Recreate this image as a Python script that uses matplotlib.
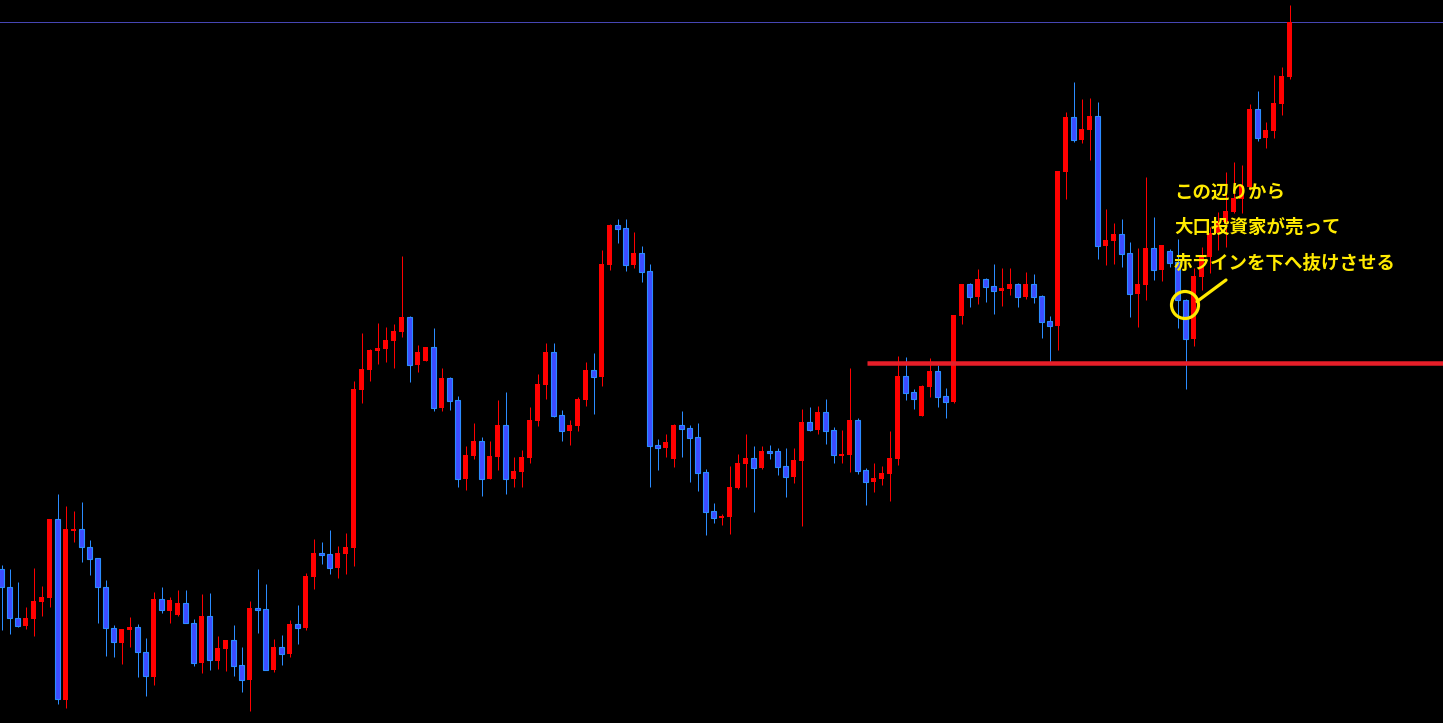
import numpy as np
import matplotlib
matplotlib.use("Agg")
import matplotlib.pyplot as plt
from matplotlib.patches import Circle

plt.rcParams["font.family"] = ["Noto Sans CJK JP", "DejaVu Sans"]

# OHLC, in screen levels (axis is inverted: smaller = higher price)
OPEN = [569, 587, 618, 626, 619, 602, 598, 519, 700, 530,
        529, 547, 558, 587, 628, 643, 630, 627, 652, 677,
        599, 611, 615, 603, 623, 663, 616, 661, 649, 640,
        665, 680, 608, 609, 670, 647, 654, 624, 628, 577,
        553, 554, 568, 554, 548, 390, 370, 351, 349, 341,
        332, 317, 365, 361, 347, 408, 378, 400, 479, 456,
        441, 479, 457, 425, 479, 472, 458, 421, 385, 352,
        415, 431, 426, 400, 370, 377, 265, 225, 228, 265,
        253, 271, 445, 448, 459, 425, 428, 437, 472, 511,
        518, 517, 488, 464, 458, 468, 451, 451, 466, 477,
        461, 422, 430, 412, 430, 455, 455, 420, 470, 482,
        479, 474, 459, 376, 392, 416, 387, 371, 396, 402,
        316, 284, 297, 279, 286, 291, 289, 284, 297, 284,
        296, 321, 326, 172, 117, 140, 130, 116, 246, 241,
        234, 253, 294, 285, 248, 270, 251, 262, 300, 339,
        277, 257, 233, 222, 212, 199, 187, 109, 138, 131,
        104, 77]
HIGH = [565, 569, 582, 607, 568, 586, 519, 494, 506, 511,
        502, 540, 558, 580, 625, 629, 617, 624, 638, 592,
        587, 597, 590, 590, 619, 594, 593, 636, 640, 625,
        647, 601, 569, 584, 639, 635, 620, 605, 573, 539,
        542, 530, 546, 533, 381, 333, 349, 323, 327, 324,
        256, 316, 345, 347, 328, 368, 377, 396, 446, 423,
        437, 441, 400, 392, 457, 450, 407, 374, 343, 343,
        410, 420, 397, 362, 353, 250, 224, 219, 219, 232,
        246, 264, 439, 434, 424, 411, 425, 423, 469, 503,
        514, 466, 454, 434, 446, 446, 445, 448, 448, 448,
        409, 407, 406, 399, 427, 430, 368, 418, 468, 463,
        466, 431, 356, 357, 389, 385, 358, 365, 388, 315,
        284, 283, 269, 278, 264, 268, 268, 283, 272, 274,
        295, 316, 171, 112, 82, 99, 98, 102, 209, 223,
        219, 242, 248, 177, 217, 245, 249, 239, 299, 268,
        247, 227, 212, 172, 162, 165, 104, 91, 122, 75,
        67, 5]
LOW = [630, 634, 627, 629, 636, 616, 607, 704, 708, 542,
       562, 575, 623, 656, 657, 664, 647, 677, 696, 685,
       613, 623, 616, 623, 666, 673, 670, 669, 671, 676,
       692, 711, 633, 670, 672, 665, 657, 644, 630, 589,
       564, 574, 578, 574, 566, 403, 381, 364, 362, 368,
       337, 382, 372, 361, 411, 411, 410, 487, 490, 459,
       496, 479, 470, 494, 487, 487, 463, 426, 399, 417,
       441, 445, 431, 406, 414, 386, 270, 243, 271, 268,
       282, 487, 470, 457, 467, 457, 482, 491, 535, 523,
       525, 534, 489, 487, 512, 469, 459, 475, 497, 483,
       526, 431, 434, 444, 463, 463, 472, 474, 505, 492,
       485, 501, 465, 400, 409, 416, 397, 407, 418, 403,
       324, 307, 304, 302, 314, 306, 295, 307, 299, 303,
       338, 362, 350, 199, 142, 143, 160, 259, 265, 264,
       267, 317, 327, 300, 280, 281, 267, 328, 389, 346,
       290, 273, 250, 247, 213, 213, 190, 141, 148, 138,
       115, 79]
CLOSE = [587, 618, 626, 618, 601, 597, 519, 699, 529, 529,
         547, 559, 587, 628, 642, 629, 627, 652, 676, 599,
         610, 600, 603, 623, 663, 616, 660, 648, 640, 666,
         680, 608, 610, 670, 647, 654, 624, 628, 576, 553,
         555, 568, 553, 547, 389, 369, 350, 348, 340, 331,
         317, 365, 352, 347, 408, 378, 401, 479, 455, 441,
         479, 456, 425, 479, 471, 457, 420, 384, 352, 416,
         431, 425, 399, 370, 377, 264, 225, 229, 265, 253,
         272, 446, 448, 442, 425, 429, 438, 473, 512, 518,
         516, 487, 463, 458, 468, 451, 452, 467, 477, 460,
         422, 430, 412, 431, 455, 454, 420, 471, 482, 478,
         473, 458, 376, 393, 399, 386, 371, 397, 402, 315,
         284, 297, 279, 287, 291, 288, 284, 297, 284, 297,
         322, 326, 171, 117, 140, 129, 116, 246, 240, 234,
         254, 294, 284, 248, 270, 245, 263, 300, 339, 276,
         257, 233, 222, 211, 198, 186, 109, 138, 130, 103,
         76, 22]

RESIST_LEVEL = 363.3
TOP_LEVEL = 22.3
NOTE_LINES = ["この辺りから", "大口投資家が売って", "赤ラインを下へ抜けさせる"]

UP = "#ff0000"
DOWN_FACE = "#3d4cff"
DOWN_EDGE = "#2b8cff"
YELLOW = "#ffea00"

W, H = 1443, 723
fig = plt.figure(figsize=(W / 100, H / 100), dpi=100, facecolor="black")
ax = fig.add_axes([0, 0, 1, 1])
ax.set_facecolor("black")
ax.set_xlim(0, W)
ax.set_ylim(H, 0)
ax.axis("off")

o = np.array(OPEN, float)
h = np.array(HIGH, float)
l = np.array(LOW, float)
c = np.array(CLOSE, float)
x = 1.5 + 8 * np.arange(len(o))
up = c < o

px = 0.72  # one pixel in points

# wicks
ax.vlines(x[up], h[up], l[up], color=UP, lw=px, zorder=2)
ax.vlines(x[~up], h[~up], l[~up], color=DOWN_EDGE, lw=px, zorder=2)

# bodies
top = np.minimum(o, c)
height = np.maximum(np.abs(o - c), 1.6)
ax.bar(x[up], height[up], bottom=top[up], width=5.0, color=UP,
       edgecolor=UP, linewidth=0, zorder=3)
ax.bar(x[~up], height[~up], bottom=top[~up], width=4.4, color=DOWN_FACE,
       edgecolor=DOWN_EDGE, linewidth=0.8, zorder=3)

# horizontal lines
ax.axhline(TOP_LEVEL, color="#4646b4", lw=px, zorder=1)
ax.plot([867, W], [RESIST_LEVEL, RESIST_LEVEL], color="#e61e28",
        lw=4.5 * px, solid_capstyle="butt", zorder=4)

# annotation
for i, line in enumerate(NOTE_LINES):
    ax.text(1174, 192 + 35.5 * i, line, color=YELLOW, fontsize=13.3,
            fontweight="bold", ha="left", va="center", zorder=6)
ax.add_patch(Circle((1185, 305), 13.5, fill=False, ec=YELLOW,
                    lw=3.2 * px, zorder=6))
ax.plot([1197, 1226], [301.5, 280], color=YELLOW, lw=3.2 * px,
        solid_capstyle="round", zorder=6)

fig.savefig("out.png", dpi=100, facecolor="black")
